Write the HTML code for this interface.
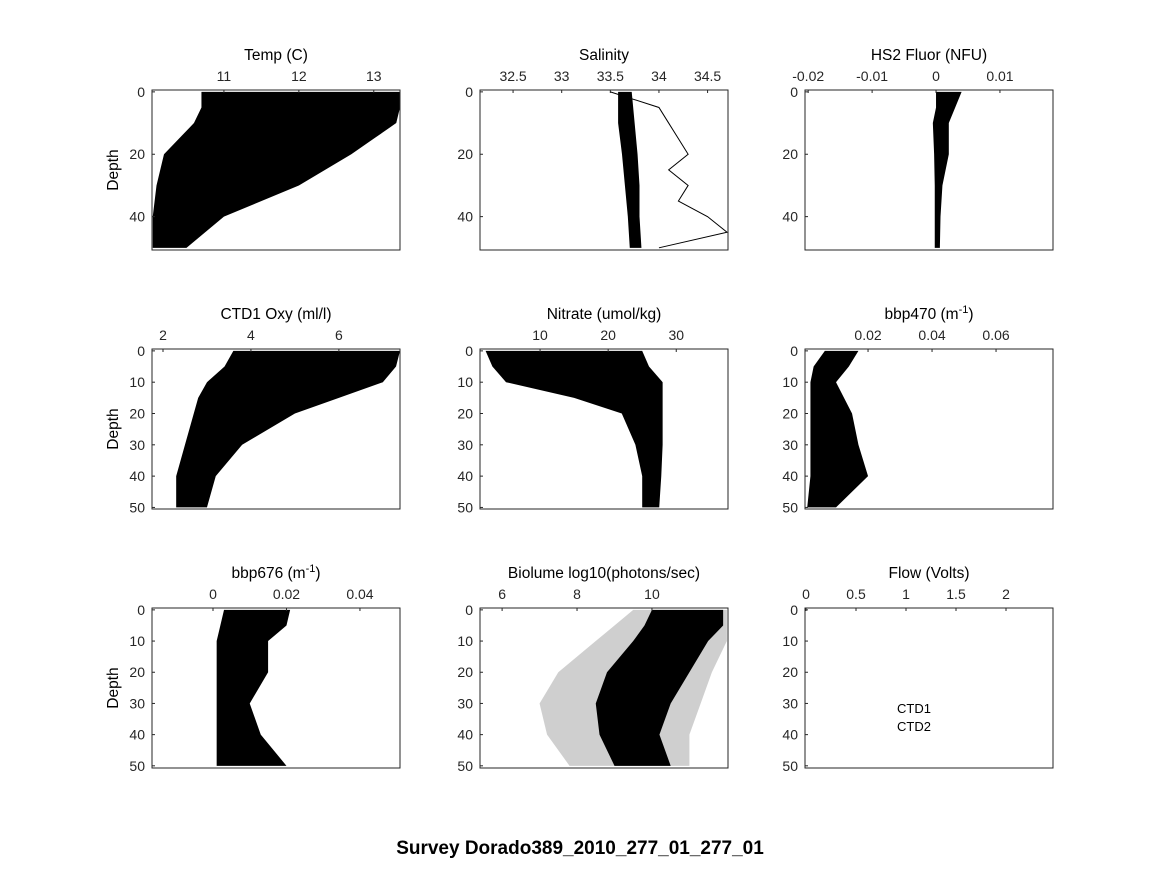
<!DOCTYPE html>
<html><head><meta charset="utf-8"><style>
body{margin:0;background:#fff}
svg{font-family:"Liberation Sans","DejaVu Sans",sans-serif}
</style></head><body>
<svg id="c" width="1164" height="864" viewBox="0 0 1164 864">
<text x="580" y="854" text-anchor="middle" font-size="19" font-weight="bold">Survey Dorado389_2010_277_01_277_01</text>
</svg>
<script>
const tempDepth=[0,5,10,15,20,30,40,50];
const tempLeft=[10.7,10.7,10.6,10.4,10.2,10.1,10.05,10.05];
const tempRight=[13.35,13.35,13.3,13.0,12.7,12.0,11.0,10.5];
const salDepth=[0,10,20,30,40,50];
const salLeft=[33.58,33.58,33.62,33.65,33.68,33.7];
const salRight=[33.72,33.75,33.78,33.8,33.8,33.82];
const salLineDepth=[0,5,10,15,20,25,30,35,40,45,50];
const salLineValues=[33.5,34.0,34.1,34.2,34.3,34.1,34.3,34.2,34.5,34.7,34.0];
const fluDepth=[0,5,10,20,30,40,50];
const fluLeft=[0.0,0.0,-0.0005,-0.0003,-0.0002,-0.0002,-0.0002];
const fluRight=[0.004,0.003,0.002,0.002,0.001,0.0007,0.0006];
const oxyDepth=[0,5,10,15,20,30,40,50];
const oxyLeft=[3.6,3.4,3.0,2.8,2.7,2.5,2.3,2.3];
const oxyRight=[7.39,7.3,7.0,6.0,5.0,3.8,3.2,3.0];
const nitDepth=[0,5,10,15,20,30,40,50];
const nitLeft=[2,3,5,15,22,24,25,25];
const nitRight=[25,26,28,28,28,28,27.8,27.5];
const b470Depth=[0,5,10,20,30,40,50];
const b470Left=[0.0065,0.003,0.002,0.002,0.002,0.002,0.001];
const b470Right=[0.017,0.014,0.01,0.015,0.017,0.02,0.01];
const b676Depth=[0,5,10,20,30,40,50];
const b676Left=[0.003,0.002,0.001,0.001,0.001,0.001,0.001];
const b676Right=[0.021,0.02,0.015,0.015,0.01,0.013,0.02];
const bioDepth=[0,5,10,20,30,40,50];
const bioLeft=[10,9.8,9.5,8.8,8.5,8.6,9.0];
const bioRight=[11.9,11.9,11.5,11.0,10.5,10.2,10.5];
const bioHaloLeft=[9.5,9.0,8.5,7.5,7.0,7.2,7.8];
const bioHaloRight=[12.0,12.0,12.0,11.6,11.3,11.0,11.0];
const tempTicks=[11,12,13], salTicks=[32.5,33,33.5,34,34.5], fluTicks=[-0.02,-0.01,0,0.01];
const oxyTicks=[2,4,6], nitTicks=[10,20,30], b470Ticks=[0.02,0.04,0.06];
const b676Ticks=[0,0.02,0.04], bioTicks=[6,8,10], flowTicks=[0,0.5,1,1.5,2];
const depthTicks1=[0,20,40], depthTicks2=[0,10,20,30,40,50];

const svg=document.getElementById('c');
const NS='http://www.w3.org/2000/svg';
function mk(tag,attrs,parent){const e=document.createElementNS(NS,tag);for(const k in attrs)e.setAttribute(k,attrs[k]);(parent||svg).appendChild(e);return e;}
const cols=[152,480,805], rows=[90,349,608], W=248, H=160;
const panels=[
 {n:'temp',t:'Temp (C)',c:0,r:0,x0:10.04,x1:13.35,ticks:tempTicks,d:depthTicks1,dmax:50.7,dmin:-0.6,band:[tempDepth,tempLeft,tempRight]},
 {n:'salinity',t:'Salinity',c:1,r:0,x0:32.16,x1:34.71,ticks:salTicks,d:depthTicks1,dmax:50.7,dmin:-0.6,band:[salDepth,salLeft,salRight],line:[salLineDepth,salLineValues]},
 {n:'fluor',t:'HS2 Fluor (NFU)',c:2,r:0,x0:-0.0205,x1:0.0183,ticks:fluTicks,d:depthTicks1,dmax:50.7,dmin:-0.6,band:[fluDepth,fluLeft,fluRight]},
 {n:'oxygen',t:'CTD1 Oxy (ml/l)',c:0,r:1,x0:1.75,x1:7.39,ticks:oxyTicks,d:depthTicks2,dmax:50.5,dmin:-0.6,band:[oxyDepth,oxyLeft,oxyRight]},
 {n:'nitrate',t:'Nitrate (umol/kg)',c:1,r:1,x0:1.18,x1:37.6,ticks:nitTicks,d:depthTicks2,dmax:50.5,dmin:-0.6,band:[nitDepth,nitLeft,nitRight]},
 {n:'bbp470',t:'bbp470 (m',sup:true,c:2,r:1,x0:0.0003,x1:0.0778,ticks:b470Ticks,d:depthTicks2,dmax:50.5,dmin:-0.6,band:[b470Depth,b470Left,b470Right]},
 {n:'bbp676',t:'bbp676 (m',sup:true,c:0,r:2,x0:-0.0166,x1:0.0509,ticks:b676Ticks,d:depthTicks2,dmax:50.7,dmin:-0.6,band:[b676Depth,b676Left,b676Right]},
 {n:'biolume',t:'Biolume log10(photons/sec)',c:1,r:2,x0:5.41,x1:12.03,ticks:bioTicks,d:depthTicks2,dmax:50.7,dmin:-0.6,band:[bioDepth,bioLeft,bioRight],halo:[bioDepth,bioHaloLeft,bioHaloRight]},
 {n:'flow',t:'Flow (Volts)',c:2,r:2,x0:-0.01,x1:2.47,ticks:flowTicks,d:depthTicks2,dmax:50.7,dmin:-0.6,band:null}
];
panels.forEach(p=>{
 const L=cols[p.c],T=rows[p.r];
 const g=mk('g',{});
 
 
 const sx=v=>L+(v-p.x0)/(p.x1-p.x0)*W;
 const sy=v=>T+(v-p.dmin)/(p.dmax-p.dmin)*H;
 function poly(b,fill){const [d,l,r]=b;let pts=[];for(let i=0;i<d.length;i++)pts.push(sx(l[i])+','+sy(d[i]));for(let i=d.length-1;i>=0;i--)pts.push(sx(r[i])+','+sy(d[i]));return mk('polygon',{points:pts.join(' '),fill:fill},g);}
 if(p.halo){const h=poly(p.halo,'#cfcfcf');}
 if(p.band){const b=poly(p.band,'#000');}
 if(p.line){const [d,v]=p.line;const pts=d.map((dd,i)=>sx(v[i])+','+sy(dd)).join(' ');const pl=mk('polyline',{points:pts,fill:'none',stroke:'#000','stroke-width':1},g);
  }
 const box=mk('rect',{x:L,y:T,width:W,height:H,fill:'none',stroke:'#262626','stroke-width':1},g);
 
 
 p.ticks.forEach(v=>{const x=sx(v);mk('line',{x1:x,x2:x,y1:T,y2:T+3,stroke:'#262626'},g);
  const t=mk('text',{x:x,y:T-9,'text-anchor':'middle','font-size':14,fill:'#262626'},g);t.textContent=v;
  });
 p.d.forEach(v=>{const y=sy(v);mk('line',{x1:L,x2:L+3,y1:y,y2:y,stroke:'#262626'},g);
  const t=mk('text',{x:L-7,y:y+5,'text-anchor':'end','font-size':14,fill:'#262626'},g);t.textContent=v;
  });
 const tt=mk('text',{x:L+W/2,y:T-30,'text-anchor':'middle','font-size':15.5,fill:'#000'},g);
 
 if(p.sup){tt.textContent=p.t;const s1=mk('tspan',{dy:-6,'font-size':11},tt);s1.textContent='-1';const s2=mk('tspan',{dy:6},tt);s2.textContent=')';}
 else tt.textContent=p.t;
 if(p.c===0){const yl=mk('text',{x:0,y:0,transform:`translate(118,${T+H/2}) rotate(-90)`,'text-anchor':'middle','font-size':15.5},g);yl.textContent='Depth';
  }
 if(p.n==='flow'){['CTD1','CTD2'].forEach((s,i)=>{const t=mk('text',{x:897,y:713+i*18,'font-size':13},g);t.textContent=s;
  });}
});
</script>
</body></html>
